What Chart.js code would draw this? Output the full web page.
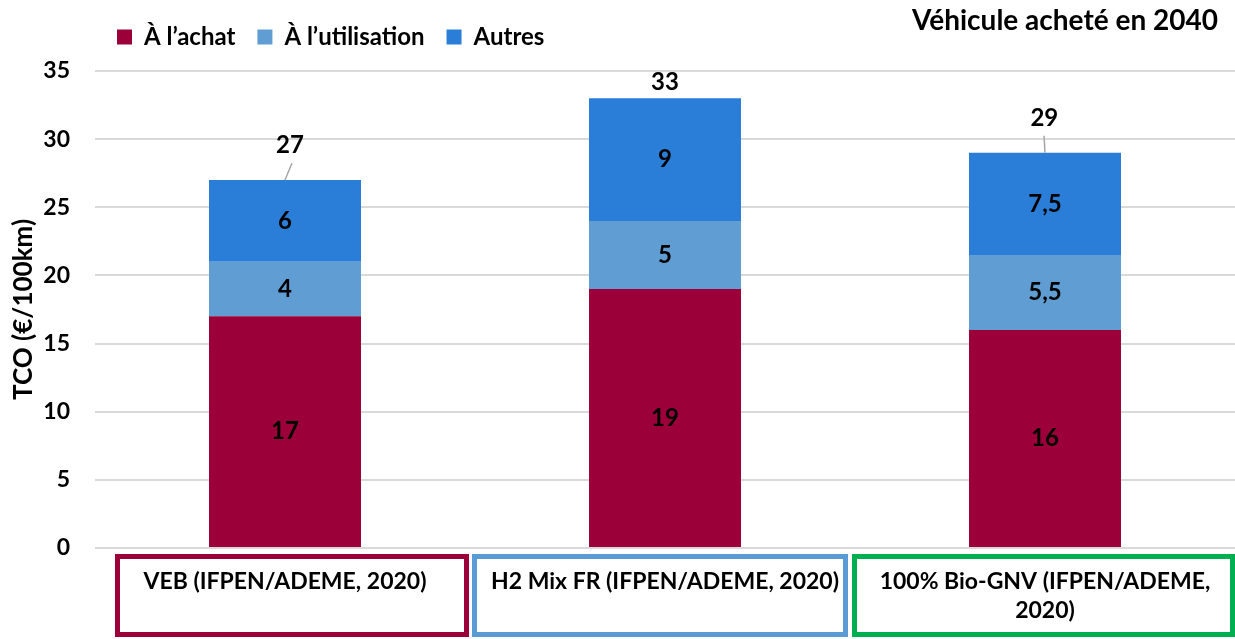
<!DOCTYPE html>
<html lang="fr">
<head>
<meta charset="utf-8">
<title>TCO – véhicule acheté en 2040</title>
<script src="https://cdn.jsdelivr.net/npm/chart.js@4.4.1/dist/chart.umd.min.js"></script>
<style>
  html,body{margin:0;padding:0;background:#fff;}
  #wrap{width:1235px;height:639px;}
</style>
</head>
<body>
<div id="wrap"><canvas id="tcoChart" width="1235" height="639"></canvas></div>
<script>
// TCO (€/100km) par poste, véhicule acheté en 2040 — barres empilées + étiquettes maison
const FONT = "Lato, 'Open Sans', sans-serif";

const categories = [
  'VEB (IFPEN/ADEME, 2020)',
  'H2 Mix FR (IFPEN/ADEME, 2020)',
  ['100% Bio-GNV (IFPEN/ADEME,', '2020)']
];
const seriesNames = ['À l’achat', 'À l’utilisation', 'Autres'];
const achat       = [17, 19, 16];
const utilisation = [4, 5, 5.5];
const autres      = [6, 9, 7.5];
const yMin = 0, yMax = 35, yStep = 5;
const chartTitle = 'Véhicule acheté en 2040';
const yTitle = 'TCO (€/100km)';

// styles
const seriesColors = ['#9B0039', '#5F9DD3', '#2A7ED7'];
const boxColors = ['#9B0039', '#5B9BD5', '#00B050'];
const boxEdges = [[-170, 184], [-193, 183], [-193, 190]]; // bords des cadres / centre de catégorie
const totalLift = [35, 16, 35];   // décalage étiquette total au-dessus de la barre
const leaderDx  = [7, 0, -1];

const fmt = v => String(v).replace('.', ',');

const segLabels = {
  id: 'segLabels',
  afterDatasetsDraw(chart){
    const ctx = chart.ctx;
    ctx.save();
    ctx.font = `bold 24px ${FONT}`;
    ctx.fillStyle = '#000';
    ctx.textAlign = 'center';
    ctx.textBaseline = 'middle';
    chart.data.datasets.forEach((ds, d) => {
      chart.getDatasetMeta(d).data.forEach((el, i) => {
        ctx.fillText(fmt(ds.data[i]), el.x, (el.y + el.base)/2);
      });
    });
    // totaux
    const last = chart.getDatasetMeta(chart.data.datasets.length - 1).data;
    last.forEach((el, i) => {
      const total = chart.data.datasets.reduce((s, ds) => s + ds.data[i], 0);
      const top = el.y;
      if (totalLift[i] > 25){
        ctx.strokeStyle = '#a6a6a6';
        ctx.lineWidth = 1.5;
        ctx.beginPath();
        ctx.moveTo(el.x, top);
        ctx.lineTo(el.x + leaderDx[i], top - 17);
        ctx.stroke();
      }
      ctx.fillText(fmt(total), el.x + leaderDx[i]*0.7, top - totalLift[i]);
    });
    ctx.restore();
  }
};

const catBoxes = {
  id: 'catBoxes',
  afterDraw(chart){
    const ctx = chart.ctx;
    const xs = chart.scales.x;
    ctx.save();
    categories.forEach((lab, i) => {
      const cx = xs.getPixelForValue(i);
      const l = cx + boxEdges[i][0], r = cx + boxEdges[i][1];
      ctx.lineWidth = 5;
      ctx.strokeStyle = boxColors[i];
      ctx.strokeRect(l + 2.5, 556.5, r - l - 5, 78);
      ctx.font = `bold 23px ${FONT}`;
      ctx.fillStyle = '#000';
      ctx.textAlign = 'center';
      ctx.textBaseline = 'middle';
      const lines = Array.isArray(lab) ? lab : [lab];
      lines.forEach((t, k) => ctx.fillText(t, cx, 582 + k*29));
    });
    // titre en haut à droite
    ctx.font = `bold 28px ${FONT}`;
    ctx.textAlign = 'right';
    ctx.textBaseline = 'middle';
    ctx.fillText(chartTitle, 1218, 21);
    ctx.restore();
  }
};

// espace entre légende et zone de tracé
const legendGap = {
  id: 'legendGap',
  beforeInit(chart){
    const fit = chart.legend.fit;
    chart.legend.fit = function(){ fit.bind(chart.legend)(); this.height += 12; };
  }
};

new Chart(document.getElementById('tcoChart').getContext('2d'), {
  type: 'bar',
  data: {
    labels: categories,
    datasets: [
      {label: seriesNames[0], data: achat,       backgroundColor: seriesColors[0]},
      {label: seriesNames[1], data: utilisation, backgroundColor: seriesColors[1]},
      {label: seriesNames[2], data: autres,      backgroundColor: seriesColors[2]}
    ]
  },
  options: {
    responsive: false, animation: false, devicePixelRatio: 1,
    layout: {padding: {top: 3, left: 0, right: 0, bottom: 91}},
    datasets: {bar: {categoryPercentage: 1, barPercentage: 0.4, borderWidth: 0}},
    plugins: {
      legend: {
        position: 'top', align: 'start', fullSize: false,
        labels: {boxWidth: 15, boxHeight: 15, padding: 22, color: '#000', font: {family: FONT, size: 24, weight: 'bold'}}
      },
      tooltip: {enabled: false}
    },
    scales: {
      x: {stacked: true, display: false},
      y: {
        stacked: true, min: yMin, max: yMax,
        afterFit: s => { s.width = 95; },
        border: {display: false},
        grid: {color: '#d9d9d9', lineWidth: 2, drawTicks: false},
        ticks: {stepSize: yStep, padding: 25, color: '#000', font: {family: FONT, size: 23, weight: 'bold'}},
        title: {display: true, text: yTitle, color: '#000', padding: {top: 8, bottom: 0}, font: {family: FONT, size: 26, weight: 'bold'}}
      }
    }
  },
  plugins: [segLabels, catBoxes, legendGap]
});
</script>
</body>
</html>
